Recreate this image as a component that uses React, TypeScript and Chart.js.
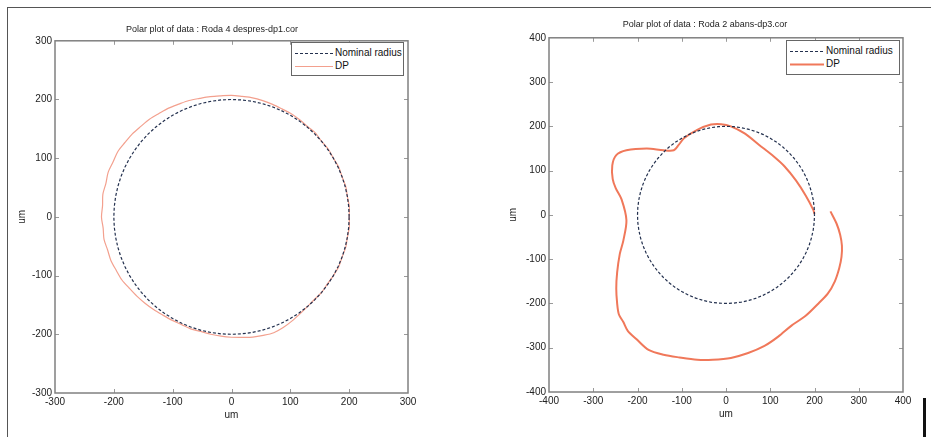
import React, { useEffect, useRef } from "react";
import { Chart, registerables } from "chart.js";

Chart.register(...registerables);

// ---------- text ----------
const TITLE_LEFT = "Polar plot of data : Roda 4 despres-dp1.cor";
const TITLE_RIGHT = "Polar plot of data : Roda 2 abans-dp3.cor";
const LEGEND_LABELS = ["Nominal radius", "DP"];
const AXIS_LABEL = "um";

// ---------- axes ----------
const LEFT_RANGE = [-300, 300];
const RIGHT_RANGE = [-400, 400];
const TICK_STEP = 100;

// ---------- nominal circle (polar: angle in degrees, constant radius) ----------
const NOMINAL_RADIUS = 200;
const NOMINAL_ANGLES = [
  0, 5, 10, 15, 20, 25, 30, 35, 40, 45, 50, 55, 60, 65, 70, 75, 80, 85, 90,
  95, 100, 105, 110, 115, 120, 125, 130, 135, 140, 145, 150, 155, 160, 165,
  170, 175, 180, 185, 190, 195, 200, 205, 210, 215, 220, 225, 230, 235, 240,
  245, 250, 255, 260, 265, 270, 275, 280, 285, 290, 295, 300, 305, 310, 315,
  320, 325, 330, 335, 340, 345, 350, 355, 360,
];

// ---------- left plot DP measurement (polar: angle deg, radius um) ----------
const DP1_ANGLES = NOMINAL_ANGLES;
const DP1_RADII = [
  200, 201, 200, 201, 200, 201, 200, 201, 200, 202, 201, 202, 203, 203, 204,
  205, 206, 206, 207, 207, 208, 209, 211, 212, 214, 215, 217, 218, 220, 221,
  223, 222, 223, 221, 222, 220, 221, 219, 220, 218, 218, 216, 215, 212, 210,
  208, 206, 204, 203, 202, 203, 202, 203, 204, 205, 206, 208, 209, 210, 208,
  205, 202, 200, 199, 200, 199, 200, 201, 200, 201, 200, 201, 200,
];

// ---------- right plot DP measurement (cartesian, um) ----------
const DP2_X = [
  236, 250, 258, 262, 261, 256, 246, 230, 209, 180, 148, 118, 87, 50, 11, -30,
  -65, -105, -141, -175, -202, -222, -232, -242, -246, -248, -246, -240, -232,
  -225, -236, -249, -256, -257, -248, -225, -179, -141, -118, -107, -95, -65,
  -34, -11, 11, 42, 75, 108, 132, 158, 180, 197, 200,
];
const DP2_Y = [
  8, -20, -45, -70, -95, -120, -150, -178, -200, -228, -250, -275, -296, -312,
  -323, -327, -327, -322, -316, -305, -281, -262, -242, -225, -200, -166, -130,
  -88, -58, -12, 35, 60, 81, 112, 135, 146, 150, 146, 146, 158, 173, 192, 204,
  205, 200, 184, 158, 132, 110, 78, 44, 12, 2,
];

const FONT = "'Liberation Sans', Arial, Helvetica, sans-serif";
const NOMINAL_COLOR = "#23304e";
const DP1_COLOR = "#f3a08e";
const DP2_COLOR = "#f0785a";

function polarToXY(angles: number[], radii: number[]) {
  return angles.map((a, i) => {
    const t = (a * Math.PI) / 180;
    return { x: radii[i] * Math.cos(t), y: radii[i] * Math.sin(t) };
  });
}

const matlabBox = {
  id: "matlabBox",
  afterDraw(chart: any) {
    const { ctx, chartArea } = chart;
    const { left, right, top, bottom } = chartArea;
    const xs = chart.scales.x;
    const ys = chart.scales.y;
    ctx.save();
    ctx.strokeStyle = "#9a9a9a";
    ctx.lineWidth = 1;
    const L = 4;
    xs.ticks.forEach((t: any) => {
      if (t.value === xs.min || t.value === xs.max) return;
      const px = Math.round(xs.getPixelForValue(t.value)) + 0.5;
      ctx.beginPath();
      ctx.moveTo(px, bottom);
      ctx.lineTo(px, bottom - L);
      ctx.moveTo(px, top);
      ctx.lineTo(px, top + L);
      ctx.stroke();
    });
    ys.ticks.forEach((t: any) => {
      if (t.value === ys.min || t.value === ys.max) return;
      const py = Math.round(ys.getPixelForValue(t.value)) + 0.5;
      ctx.beginPath();
      ctx.moveTo(left, py);
      ctx.lineTo(left + L, py);
      ctx.moveTo(right, py);
      ctx.lineTo(right - L, py);
      ctx.stroke();
    });
    ctx.strokeStyle = "#808080";
    ctx.lineWidth = 1.5;
    ctx.strokeRect(left, top, right - left, bottom - top);
    ctx.restore();
  },
};

function makeConfig(
  title: string,
  range: number[],
  dpPoints: { x: number; y: number }[],
  dpColor: string,
  dpWidth: number,
  pad: { left: number; right: number; bottom: number; titleTop: number; titleBottom: number },
  yWidth: number
): any {
  const nominal = polarToXY(
    NOMINAL_ANGLES,
    NOMINAL_ANGLES.map(() => NOMINAL_RADIUS)
  );
  const tickFont = { family: FONT, size: 10 };
  return {
    type: "scatter",
    data: {
      datasets: [
        {
          label: LEGEND_LABELS[0],
          data: nominal,
          showLine: true,
          borderColor: NOMINAL_COLOR,
          borderWidth: 1.2,
          borderDash: [3, 2],
          pointRadius: 0,
          tension: 0,
        },
        {
          label: LEGEND_LABELS[1],
          data: dpPoints,
          showLine: true,
          borderColor: dpColor,
          borderWidth: dpWidth,
          pointRadius: 0,
          tension: 0.3,
        },
      ],
    },
    options: {
      animation: false,
      responsive: false,
      events: [],
      layout: {
        padding: { left: pad.left, right: pad.right, top: 0, bottom: pad.bottom },
      },
      plugins: {
        legend: { display: false },
        tooltip: { enabled: false },
        title: {
          display: true,
          text: title,
          color: "#222",
          font: { family: FONT, size: 9, weight: "normal" },
          padding: { top: pad.titleTop, bottom: pad.titleBottom },
        },
      },
      scales: {
        x: {
          type: "linear",
          min: range[0],
          max: range[1],
          grid: { display: false, drawTicks: false },
          border: { display: false },
          ticks: {
            stepSize: TICK_STEP,
            color: "#222",
            font: tickFont,
            padding: 3,
            maxRotation: 0,
            autoSkip: false,
          },
          title: {
            display: true,
            text: AXIS_LABEL,
            color: "#222",
            font: tickFont,
            padding: { top: 0, bottom: 2 },
          },
          afterFit: (s: any) => {
            s.height = 30;
          },
        },
        y: {
          type: "linear",
          min: range[0],
          max: range[1],
          grid: { display: false, drawTicks: false },
          border: { display: false },
          ticks: {
            stepSize: TICK_STEP,
            color: "#222",
            font: tickFont,
            padding: 3,
            autoSkip: false,
          },
          title: {
            display: true,
            text: AXIS_LABEL,
            color: "#222",
            font: tickFont,
            padding: { top: 0, bottom: 2 },
          },
          afterFit: (s: any) => {
            s.width = yWidth;
          },
        },
      },
    },
    plugins: [matlabBox],
  };
}

function Legend({ left, top, width, height, sample, dpColor, dpWidth }: any) {
  return (
    <div
      style={{
        position: "absolute",
        left,
        top,
        width,
        height,
        boxSizing: "border-box",
        border: "1px solid #666",
        background: "#fff",
        fontFamily: FONT,
        fontSize: 10,
        color: "#111",
      }}
    >
      {[0, 1].map((i) => (
        <div
          key={i}
          style={{
            position: "absolute",
            left: 3,
            top: i === 0 ? 4 : 17,
            height: 12,
            display: "flex",
            alignItems: "center",
            whiteSpace: "nowrap",
          }}
        >
          <svg width={sample} height={12} style={{ display: "block" }}>
            <line
              x1={0}
              x2={sample}
              y1={6.5}
              y2={6.5}
              stroke={i === 0 ? NOMINAL_COLOR : dpColor}
              strokeWidth={i === 0 ? 1.2 : dpWidth}
              strokeDasharray={i === 0 ? "3 2" : undefined}
            />
          </svg>
          <span style={{ marginLeft: 2, lineHeight: "12px" }}>{LEGEND_LABELS[i]}</span>
        </div>
      ))}
    </div>
  );
}

export default function App() {
  const leftRef = useRef<HTMLCanvasElement>(null);
  const rightRef = useRef<HTMLCanvasElement>(null);

  useEffect(() => {
    const dp1 = polarToXY(DP1_ANGLES, DP1_RADII);
    const dp2 = DP2_X.map((x, i) => ({ x, y: DP2_Y[i] }));
    const c1 = new Chart(
      leftRef.current as HTMLCanvasElement,
      makeConfig(
        TITLE_LEFT,
        LEFT_RANGE,
        dp1,
        DP1_COLOR,
        1.2,
        { left: 16, right: 57, bottom: 14, titleTop: 24, titleBottom: 6 },
        39
      )
    );
    const c2 = new Chart(
      rightRef.current as HTMLCanvasElement,
      makeConfig(
        TITLE_RIGHT,
        RIGHT_RANGE,
        dp2,
        DP2_COLOR,
        2,
        { left: 42, right: 28, bottom: 15, titleTop: 19, titleBottom: 8 },
        42
      )
    );
    return () => {
      c1.destroy();
      c2.destroy();
    };
  }, []);

  return (
    <div
      style={{
        position: "absolute",
        left: 0,
        top: 0,
        width: 931,
        height: 437,
        background: "#fff",
        overflow: "hidden",
      }}
    >
      <div
        style={{
          position: "absolute",
          left: 7,
          top: 7,
          width: 924,
          height: 430,
          borderLeft: "1px solid #555",
          borderTop: "1px solid #555",
        }}
      />
      <canvas
        ref={leftRef}
        width={465}
        height={437}
        style={{ position: "absolute", left: 0, top: 0, width: 465, height: 437 }}
      />
      <canvas
        ref={rightRef}
        width={466}
        height={437}
        style={{ position: "absolute", left: 465, top: 0, width: 466, height: 437 }}
      />
      <Legend left={291} top={42} width={113} height={34} sample={38} dpColor={DP1_COLOR} dpWidth={1.2} />
      <Legend left={786} top={40} width={114} height={35} sample={34} dpColor={DP2_COLOR} dpWidth={2} />
      <div
        style={{
          position: "absolute",
          left: 923,
          top: 398,
          width: 3,
          height: 39,
          background: "#111",
        }}
      />
    </div>
  );
}
